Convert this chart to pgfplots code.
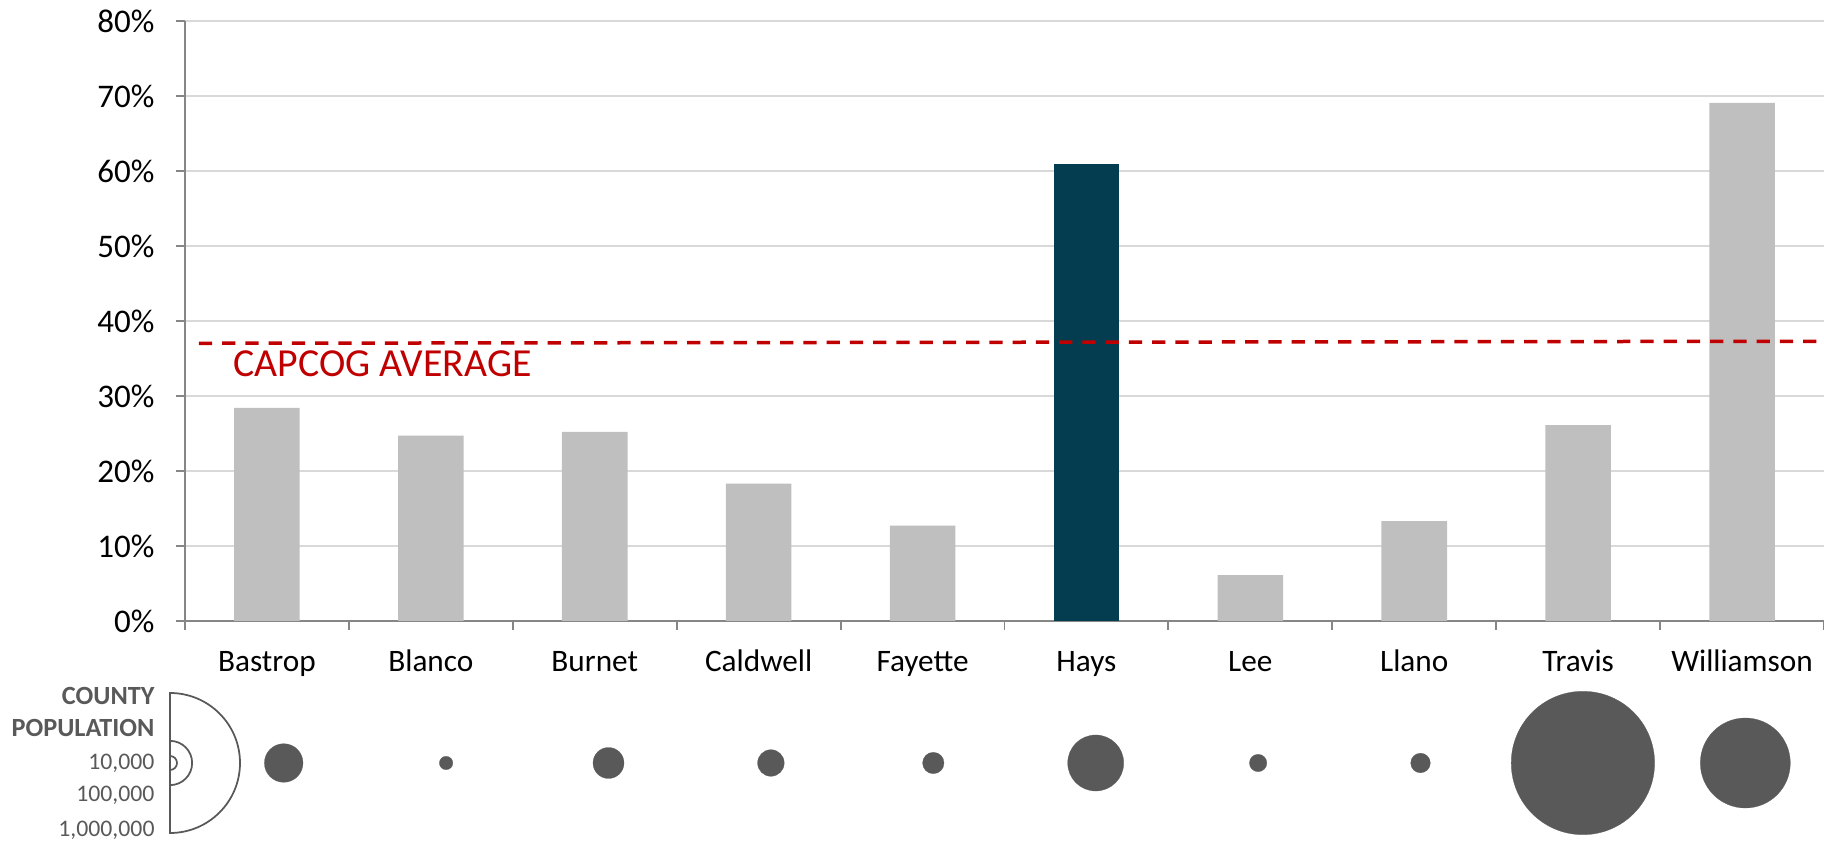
\documentclass[border=0pt]{standalone}
\usepackage{fontspec}
\setmainfont{Carlito}
\usepackage{pgfplots}
\usepackage{pgfplotstable}
\pgfplotsset{compat=1.18}

\definecolor{bargrey}{HTML}{BFBFBF}
\definecolor{haysblue}{HTML}{053D50}
\definecolor{avgred}{HTML}{C00000}
\definecolor{gridgrey}{HTML}{D9D9D9}
\definecolor{axisgrey}{HTML}{868686}
\definecolor{bubblegrey}{HTML}{595959}

% share of each county (percent); Hays is highlighted on its own
\pgfplotstableread{
x share
0 28.4
1 24.7
2 25.2
3 18.3
4 12.7
6 6.1
7 13.3
8 26.1
9 69.1
}\othercounties
\pgfplotstableread{
x share
5 60.9
}\hayscounty
% county population, drawn as circles with area proportional to it
\pgfplotstableread{
x pop
0 76000
1 9200
2 49000
3 36100
4 23400
5 160000
6 15400
7 19600
8 1049000
9 413000
}\population

\begin{document}
\begin{tikzpicture}
\useasboundingbox (0,0) rectangle (729.6pt,336.4pt);
\begin{axis}[
  at={(74pt,88pt)}, anchor=south west,
  scale only axis, width=655.6pt, height=240pt,
  xmin=-0.5, xmax=9.5, ymin=0, ymax=80,
  axis x line*=bottom, axis y line*=left,
  axis line style={draw=axisgrey, line width=0.75pt},
  tick align=outside, major tick length=3.6pt,
  tick style={draw=axisgrey, line width=0.75pt},
  xtick={-0.5,0.5,1.5,2.5,3.5,4.5,5.5,6.5,7.5,8.5,9.5},
  x tick label as interval,
  xticklabels={Bastrop,Blanco,Burnet,Caldwell,Fayette,Hays,Lee,Llano,Travis,Williamson},
  ytick={0,10,...,80},
  yticklabel={\pgfmathprintnumber{\tick}\%},
  /pgf/number format/assume math mode=true,
  ymajorgrids, grid style={draw=gridgrey, line width=0.6pt},
  tick label style={text=black},
  yticklabel style={font=\fontsize{13.2}{16}\selectfont, inner sep=0pt, xshift=-8.4pt, anchor=east},
  xticklabel style={font=\fontsize{12.5}{15}\selectfont, inner sep=0pt, anchor=base, yshift=-16.8pt},
  clip=false,
]
\addplot[ybar, bar width=0.4, bar shift=0pt, fill=bargrey, draw=none]
  table[x=x, y=share] {\othercounties};
\addplot[ybar, bar width=0.4, bar shift=0pt, fill=haysblue, draw=none]
  table[x=x, y=share] {\hayscounty};
\addplot[avgred, line width=1.4pt, dash pattern=on 5.3pt off 4pt]
  coordinates {(-0.415,37.03) (9.5,37.3)};
\node[anchor=base west, inner sep=0pt, text=avgred,
      font=\fontsize{15.9}{19}\selectfont] at (axis cs:-0.207,32.57) {CAPCOG AVERAGE};
\end{axis}

% population circles, one per county
\begin{axis}[
  at={(81pt,0pt)}, anchor=south west,
  scale only axis, width=649.6pt, height=62.4pt,
  xmin=-0.5, xmax=9.5, ymin=-1, ymax=1,
  hide axis, clip=false,
]
\addplot[scatter, only marks, mark=*,
  scatter/use mapped color={draw=bubblegrey, fill=bubblegrey},
  mark options={line width=0.1pt},
  visualization depends on={28*sqrt(\thisrow{pop}/1000000) \as \rad},
  scatter/@pre marker code/.append style={/tikz/mark size=\rad pt}]
  table[x=x, y expr=0] {\population};
\end{axis}

% size key: half circles for 10,000, 100,000 and 1,000,000
\begin{scope}[draw=bubblegrey, line width=0.7pt]
  \draw (68pt,59.2pt) arc[start angle=90, end angle=-90, radius=28pt] -- cycle;
  \draw (68pt,40.054pt) arc[start angle=90, end angle=-90, radius=8.854pt] -- cycle;
  \draw (68pt,34pt) arc[start angle=90, end angle=-90, radius=2.8pt] -- cycle;
\end{scope}
\begin{scope}[every node/.style={anchor=base east, inner sep=0pt, text=bubblegrey}]
  \node[font=\fontsize{10.5}{12}\selectfont\bfseries] at (62pt,54.4pt) {COUNTY};
  \node[font=\fontsize{10.5}{12}\selectfont\bfseries] at (62pt,41.7pt) {POPULATION};
  \node[font=\fontsize{9.5}{12}\selectfont] at (62pt,28.4pt) {10,000};
  \node[font=\fontsize{9.5}{12}\selectfont] at (62pt,15.7pt) {100,000};
  \node[font=\fontsize{9.5}{12}\selectfont] at (62pt,1.7pt) {1,000,000};
\end{scope}
\end{tikzpicture}
\end{document}
